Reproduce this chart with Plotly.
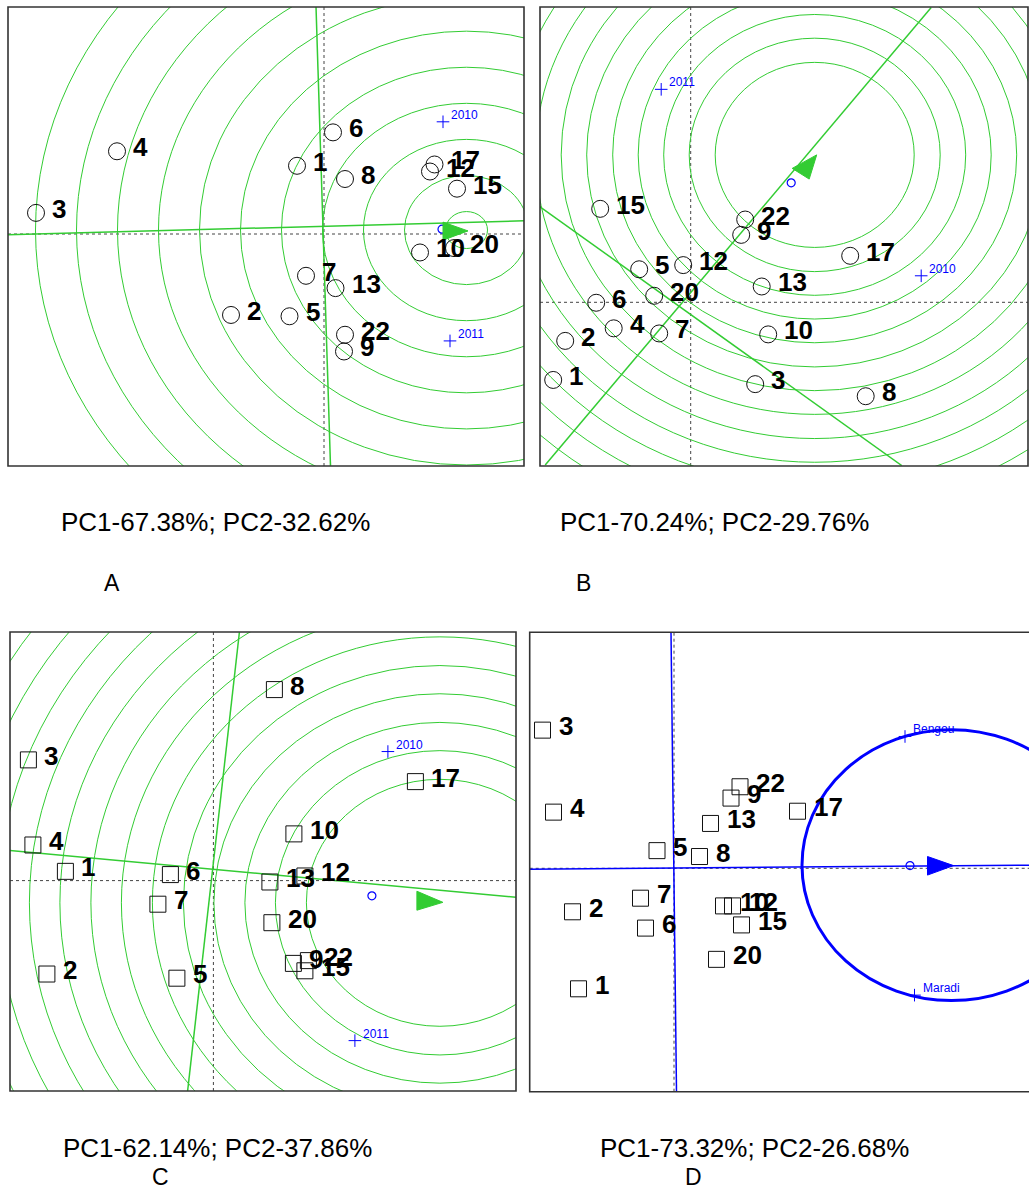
import plotly.graph_objects as go

W, H = 1029, 1189
GREEN = "rgb(51,204,51)"
BLUE = "#0000ff"
FONT = "Liberation Sans, Arial, sans-serif"

# ---------------- data ----------------
genotypes = ["1", "2", "3", "4", "5", "6", "7", "8", "9", "10", "12", "13", "15", "17", "20", "22"]

# Panel A  (PC1-67.38%; PC2-32.62%)
a_pc1 = [-0.54, -1.86, -5.76, -4.14, -0.69, 0.18, -0.36, 0.42, 0.40, 1.92, 2.12, 0.23, 2.66, 2.21, 2.60, 0.42]
a_pc2 = [1.55, -1.84, 0.48, 1.88, -1.87, 2.31, -0.95, 1.25, -2.67, -0.42, 1.42, -1.23, 1.03, 1.58, -0.32, -2.29]
a_env = ["2010", "2011"]
a_env_pc1 = [2.38, 2.52]
a_env_pc2 = [2.55, -2.43]
a_avg = [2.36, 0.11]
a_ideal = [2.85, 0.09]
a_rings = [0.42, 1.24, 2.06, 2.88, 3.70, 4.52, 5.34, 6.16, 6.98, 7.80, 8.62]
a_lines = [[(-6.33, -0.02), (4.01, 0.30)], [(-0.16, 5.17), (0.13, -5.27)]]
a_arrow = [(2.38, 0.27), (2.88, 0.07), (2.38, -0.14)]

# Panel B  (PC1-70.24%; PC2-29.76%)
b_pc1 = [-2.75, -2.51, 1.29, -1.54, -1.03, -1.89, -0.63, 3.50, 1.01, 1.55, -0.15, 1.42, -1.81, 3.19, -0.73, 1.09]
b_pc2 = [-1.67, -0.83, -1.76, -0.56, 0.71, -0.01, -0.67, -2.02, 1.45, -0.69, 0.80, 0.34, 2.01, 1.00, 0.14, 1.78]
b_env = ["2010", "2011"]
b_env_pc1 = [4.61, -0.59]
b_env_pc2 = [0.57, 4.58]
b_avg = [2.01, 2.57]
b_ideal = [2.48, 3.17]
b_rings = [1.99, 2.51, 3.02, 3.53, 4.04, 4.56, 5.07, 5.58, 6.10, 6.61, 7.12, 7.64, 8.15, 8.66]
b_lines = [[(-2.91, -3.50), (4.81, 6.34)], [(-3.02, 2.06), (4.22, -3.51)]]
b_arrow = [(2.03, 2.88), (2.52, 3.17), (2.37, 2.65)]

# Panel C  (PC1-62.14%; PC2-37.86%)
c_pc1 = [-2.96, -3.33, -3.70, -3.61, -0.73, -0.86, -1.11, 1.22, 1.60, 1.61, 1.83, 1.13, 1.83, 4.04, 1.17, 1.90]
c_pc2 = [0.20, -2.02, 2.61, 0.77, -2.11, 0.13, -0.51, 4.13, -1.79, 1.01, 0.10, -0.03, -1.95, 2.14, -0.91, -1.73]
c_env = ["2010", "2011"]
c_env_pc1 = [3.49, 2.83]
c_env_pc2 = [2.79, -3.46]
c_avg = [3.17, -0.33]
c_ideal = [4.53, -0.48]
c_rings = [2.67, 3.29, 3.90, 4.52, 5.13, 5.75, 6.37, 6.98, 7.60, 8.21, 8.83, 9.45, 10.06]
c_lines = [[(-4.08, 0.65), (6.05, -0.36)], [(0.52, 5.37), (-0.52, -4.59)]]
c_arrow = [(4.07, -0.23), (4.59, -0.47), (4.07, -0.64)]

# Panel D  (PC1-73.32%; PC2-26.68%)
d_pc1 = [-1.91, -2.03, -2.63, -2.41, -0.34, -0.57, -0.67, 0.51, 1.14, 0.99, 1.17, 0.73, 1.35, 2.47, 0.85, 1.32]
d_pc2 = [-2.66, -0.96, 3.05, 1.24, 0.39, -1.32, -0.66, 0.26, 1.55, -0.83, -0.83, 0.99, -1.25, 1.26, -2.01, 1.80]
d_env = ["Bengou", "Maradi"]
d_env_pc1 = [4.62, 4.81]
d_env_pc2 = [2.91, -2.80]
d_avg = [4.72, 0.06]
d_circle_center = [5.55, 0.07]
d_circle_r = [2.99]
d_lines = [[(-2.89, -0.02), (7.10, 0.07)], [(-0.06, 5.21), (0.05, -4.93)]]
d_arrow = [(5.07, 0.26), (5.59, 0.06), (5.07, -0.15)]

captions = ["PC1-67.38%; PC2-32.62%", "PC1-70.24%; PC2-29.76%",
            "PC1-62.14%; PC2-37.86%", "PC1-73.32%; PC2-26.68%"]
panel_letters = ["A", "B", "C", "D"]

# ---------------- layout geometry (pixels) ----------------
panels = [
    dict(frame=(8, 524, 7, 466), origin=(324, 234), sx=50, sy=44.0),
    dict(frame=(540, 1028, 7, 466), origin=(690.7, 302.3), sx=50, sy=46.5),
    dict(frame=(10, 516, 632, 1091), origin=(213.4, 880.6), sx=50, sy=46.25),
    dict(frame=(529.7, 1029, 632.3, 1091.7), origin=(674, 868.3), sx=50, sy=45.3),
]
caption_pos = [(215.5, 522), (714, 522), (217, 1148), (754, 1148)]
letter_pos = [(112, 583), (583, 583), (160, 1177), (693, 1177)]

fig = go.Figure()
shapes = []
annotations = []
layout_axes = {}


def px2paper_x(px):
    return px / W


def px2paper_y(py):
    return 1 - py / H


for i, p in enumerate(panels):
    x0, x1, y0, y1 = p["frame"]
    ox, oy = p["origin"]
    sx, sy = p["sx"], p["sy"]
    n = "" if i == 0 else str(i + 1)
    xa, ya = "xaxis" + n, "yaxis" + n
    layout_axes[xa] = dict(domain=[px2paper_x(x0), min(1, px2paper_x(x1))],
                           range=[(x0 - ox) / sx, (x1 - ox) / sx], visible=False,
                           anchor="y" + n, fixedrange=True)
    layout_axes[ya] = dict(domain=[px2paper_y(y1), px2paper_y(y0)],
                           range=[(oy - y1) / sy, (oy - y0) / sy], visible=False,
                           anchor="x" + n, fixedrange=True)

fig.update_layout(**layout_axes)

panel_data = [
    dict(pc1=a_pc1, pc2=a_pc2, env=a_env, e1=a_env_pc1, e2=a_env_pc2, avg=a_avg,
         ideal=a_ideal, rings=a_rings, lines=a_lines, arrow=a_arrow, sym="circle-open", col=GREEN),
    dict(pc1=b_pc1, pc2=b_pc2, env=b_env, e1=b_env_pc1, e2=b_env_pc2, avg=b_avg,
         ideal=b_ideal, rings=b_rings, lines=b_lines, arrow=b_arrow, sym="circle-open", col=GREEN),
    dict(pc1=c_pc1, pc2=c_pc2, env=c_env, e1=c_env_pc1, e2=c_env_pc2, avg=c_avg,
         ideal=c_ideal, rings=c_rings, lines=c_lines, arrow=c_arrow, sym="square-open", col=GREEN),
    dict(pc1=d_pc1, pc2=d_pc2, env=d_env, e1=d_env_pc1, e2=d_env_pc2, avg=d_avg,
         ideal=d_circle_center, rings=d_circle_r, lines=d_lines, arrow=d_arrow, sym="square-open", col=BLUE),
]

for i, d in enumerate(panel_data):
    n = "" if i == 0 else str(i + 1)
    xr, yr = "x" + n, "y" + n
    col = d["col"]
    ring_w = 3 if i == 3 else 1
    line_w = 1.5
    shapes.append(dict(type="line", xref=xr, yref=yr + " domain", x0=0, x1=0, y0=0, y1=1,
                       line=dict(color="#444", width=1, dash="dot"), layer="below"))
    shapes.append(dict(type="line", xref=xr + " domain", yref=yr, x0=0, x1=1, y0=0, y1=0,
                       line=dict(color="#444", width=1, dash="dot"), layer="below"))
    cx, cy = d["ideal"]
    for r in d["rings"]:
        shapes.append(dict(type="circle", xref=xr, yref=yr, x0=cx - r, x1=cx + r,
                           y0=cy - r, y1=cy + r, line=dict(color=col, width=ring_w), layer="below"))
    for (p0, p1) in d["lines"]:
        shapes.append(dict(type="line", xref=xr, yref=yr, x0=p0[0], y0=p0[1], x1=p1[0], y1=p1[1],
                           line=dict(color=col, width=line_w), layer="below"))
    a = d["arrow"]
    path = "M{},{} L{},{} L{},{} Z".format(a[0][0], a[0][1], a[1][0], a[1][1], a[2][0], a[2][1])
    shapes.append(dict(type="path", xref=xr, yref=yr, path=path, fillcolor=col,
                       line=dict(color=col, width=1), layer="above"))

    fig.add_trace(go.Scatter(x=d["pc1"], y=d["pc2"], mode="markers", xaxis=xr, yaxis=yr,
                             marker=dict(symbol=d["sym"], size=17 if i < 2 else 16, color="#111",
                                         line=dict(width=1)),
                             showlegend=False, hoverinfo="skip", cliponaxis=False))
    for g, x, y in zip(genotypes, d["pc1"], d["pc2"]):
        annotations.append(dict(x=x, y=y, xref=xr, yref=yr, text=g, showarrow=False,
                                xanchor="left", yanchor="middle", xshift=14, yshift=4,
                                font=dict(family=FONT, size=26, color="black", weight="bold")))
    fig.add_trace(go.Scatter(x=d["e1"], y=d["e2"], mode="markers", xaxis=xr, yaxis=yr,
                             marker=dict(symbol="cross-thin", size=9, color=BLUE,
                                         line=dict(width=1, color=BLUE)),
                             showlegend=False, hoverinfo="skip"))
    for e, x, y in zip(d["env"], d["e1"], d["e2"]):
        annotations.append(dict(x=x, y=y, xref=xr, yref=yr, text=e, showarrow=False,
                                xanchor="left", yanchor="middle", xshift=6, yshift=7,
                                font=dict(family=FONT, size=12, color=BLUE)))
    fig.add_trace(go.Scatter(x=[d["avg"][0]], y=[d["avg"][1]], mode="markers", xaxis=xr, yaxis=yr,
                             marker=dict(symbol="circle-open", size=8, color=BLUE,
                                         line=dict(width=1.2)),
                             showlegend=False, hoverinfo="skip"))

for i, p in enumerate(panels):
    x0, x1, y0, y1 = p["frame"]
    if i == 3:
        x1 = 1045
    shapes.append(dict(type="rect", xref="paper", yref="paper",
                       x0=px2paper_x(x0), x1=px2paper_x(x1), y0=px2paper_y(y1), y1=px2paper_y(y0),
                       line=dict(color="#333", width=1.6), layer="above"))

for cap, (cxp, cyp) in zip(captions, caption_pos):
    annotations.append(dict(x=px2paper_x(cxp), y=px2paper_y(cyp), xref="paper", yref="paper",
                            text=cap, showarrow=False, xanchor="center", yanchor="middle",
                            font=dict(family=FONT, size=26, color="black")))
for let, (lx, ly) in zip(panel_letters, letter_pos):
    annotations.append(dict(x=px2paper_x(lx), y=px2paper_y(ly), xref="paper", yref="paper",
                            text=let, showarrow=False, xanchor="center", yanchor="middle",
                            font=dict(family=FONT, size=23, color="black")))

fig.update_layout(width=W, height=H, margin=dict(l=0, r=0, t=0, b=0),
                  paper_bgcolor="white", plot_bgcolor="white",
                  shapes=shapes, annotations=annotations, showlegend=False)

fig.write_html("out.html", config={"displayModeBar": False},
               post_script="document.body.style.margin='0px';document.body.style.overflow='hidden';")
